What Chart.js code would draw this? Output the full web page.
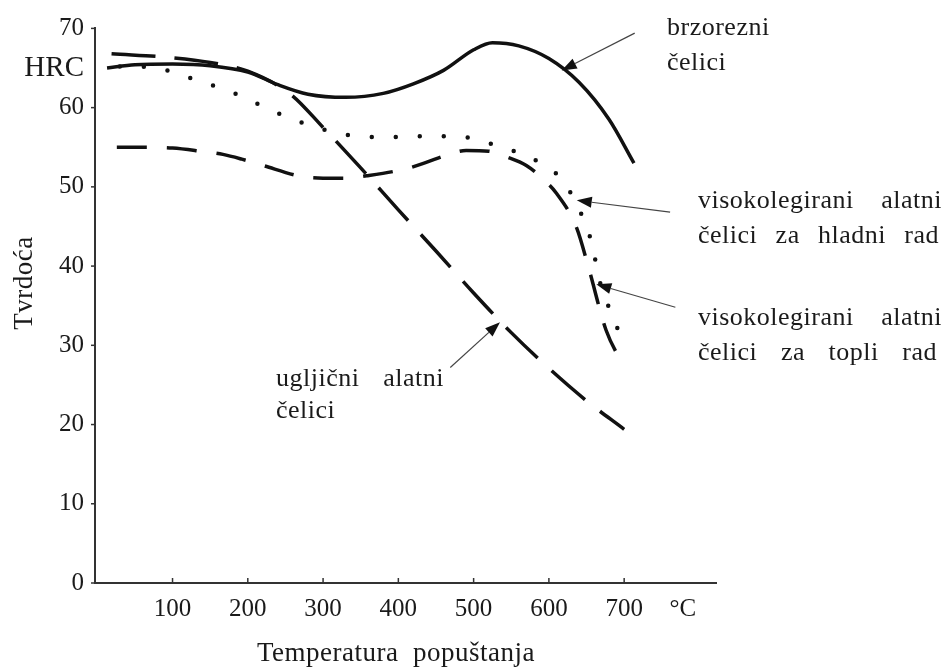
<!DOCTYPE html>
<html>
<head>
<meta charset="utf-8">
<script src="https://cdn.jsdelivr.net/npm/chart.js@4.4.0/dist/chart.umd.min.js"></script>
<style>
  body { margin: 0; background: #fff; }
  #wrap { width: 945px; height: 668px; }
</style>
</head>
<body>
<div id="wrap"><canvas id="tvrdocaChart" width="945" height="668"></canvas></div>
<script>
// Temperatura popuštanja (°C) i tvrdoća (HRC), očitano sa slike
const brzorezniT   = [13, 50, 100, 150, 200, 240, 280, 330, 380, 420, 460, 500, 525, 560, 600, 640, 680, 713];
const brzorezniHRC = [65.0, 65.4, 65.5, 65.3, 64.5, 62.9, 61.7, 61.3, 61.8, 63.0, 64.7, 67.3, 68.2, 67.8, 66.2, 63.2, 58.5, 53.0];

const ugljicniT   = [19, 100, 150, 200, 258, 300, 350, 400, 450, 500, 550, 600, 650, 700];
const ugljicniHRC = [66.8, 66.3, 65.7, 64.6, 61.6, 57.5, 52.4, 47.1, 41.9, 36.6, 31.6, 27.1, 23.0, 19.4];

const hladniT   = [30, 50, 85, 115, 147, 180, 210, 240, 272, 335, 370, 400, 435, 470, 500, 530, 563, 592, 618, 649, 659, 665, 675, 687, 701];
const hladniHRC = [65.2, 65.2, 64.9, 64.0, 63.0, 61.9, 60.6, 59.3, 58.1, 56.5, 56.3, 56.3, 56.4, 56.4, 56.1, 55.2, 54.2, 52.8, 50.8, 45.2, 42.1, 39.0, 36.0, 33.0, 30.2];

const topliT   = [26, 55, 100, 137, 167, 192, 220, 272, 300, 330, 358, 411, 437, 464, 490, 520, 543, 570, 591, 610, 637, 653, 676, 700];
const topliHRC = [55.0, 55.0, 54.9, 54.5, 54.1, 53.5, 52.7, 51.3, 51.1, 51.1, 51.4, 52.3, 53.1, 54.0, 54.6, 54.5, 53.8, 52.7, 51.1, 49.2, 44.8, 39.7, 31.9, 27.3];

const xTicks = [100, 200, 300, 400, 500, 600, 700];
const yTicks = [0, 10, 20, 30, 40, 50, 60, 70];
const jedinicaX = { vrijednost: 778, tekst: '°C' };
const jedinicaY = { vrijednost: 65, tekst: 'HRC' };

// strelice: od natpisa (rep) do krivulje (vrh), u jedinicama osi
const strelice = [
  { rep: [714, 69.4], vrh: [617, 64.7] },
  { rep: [761, 46.8], vrh: [637, 48.3] },
  { rep: [768, 34.8], vrh: [663, 37.7] },
  { rep: [469, 27.2], vrh: [535, 32.9] }
];

const natpisi = [
  { tekst: 'brzorezni', x: 667, y: 35 },
  { tekst: 'čelici', x: 667, y: 70 },
  { tekst: 'visokolegirani alatni', x: 698, y: 208, sirina: 244 },
  { tekst: 'čelici za hladni rad', x: 698, y: 243, sirina: 241 },
  { tekst: 'visokolegirani alatni', x: 698, y: 325, sirina: 244 },
  { tekst: 'čelici za topli rad', x: 698, y: 360, sirina: 239 },
  { tekst: 'ugljični alatni', x: 276, y: 386, sirina: 168 },
  { tekst: 'čelici', x: 276, y: 418 }
];

const tocke = (xs, ys) => xs.map((t, i) => ({ x: t, y: ys[i] }));

function poravnaj(ctx, tekst, x, y, sirina) {
  const rijeci = tekst.split(' ');
  if (!sirina || rijeci.length < 2) { ctx.fillText(tekst, x, y); return; }
  const ukupno = rijeci.reduce((s, r) => s + ctx.measureText(r).width, 0);
  const razmak = (sirina - ukupno) / (rijeci.length - 1);
  let px = x;
  rijeci.forEach(r => { ctx.fillText(r, px, y); px += ctx.measureText(r).width + razmak; });
}

function strelica(ctx, x1, y1, x2, y2) {
  const kut = Math.atan2(y2 - y1, x2 - x1);
  const duz = 15, sir = 5.5;
  ctx.beginPath();
  ctx.moveTo(x1, y1);
  ctx.lineTo(x2 - Math.cos(kut) * duz, y2 - Math.sin(kut) * duz);
  ctx.stroke();
  ctx.beginPath();
  ctx.moveTo(x2, y2);
  ctx.lineTo(x2 - Math.cos(kut) * duz - Math.sin(kut) * sir, y2 - Math.sin(kut) * duz + Math.cos(kut) * sir);
  ctx.lineTo(x2 - Math.cos(kut) * duz + Math.sin(kut) * sir, y2 - Math.sin(kut) * duz - Math.cos(kut) * sir);
  ctx.closePath();
  ctx.fill();
}

const crtezPlugin = {
  id: 'crtez',
  afterDraw(chart) {
    const ctx = chart.ctx;
    const sx = chart.scales.x, sy = chart.scales.y;
    const area = chart.chartArea;
    ctx.save();
    // crtice na osima
    ctx.strokeStyle = '#333';
    ctx.lineWidth = 1.5;
    xTicks.forEach(v => {
      const px = sx.getPixelForValue(v);
      ctx.beginPath(); ctx.moveTo(px, area.bottom); ctx.lineTo(px, area.bottom - 5); ctx.stroke();
    });
    yTicks.forEach(v => {
      const py = sy.getPixelForValue(v);
      ctx.beginPath(); ctx.moveTo(area.left, py); ctx.lineTo(area.left - 4, py); ctx.stroke();
    });
    // strelice
    ctx.strokeStyle = '#444';
    ctx.fillStyle = '#111';
    ctx.lineWidth = 1.2;
    strelice.forEach(s => strelica(ctx,
      sx.getPixelForValue(s.rep[0]), sy.getPixelForValue(s.rep[1]),
      sx.getPixelForValue(s.vrh[0]), sy.getPixelForValue(s.vrh[1])));
    // natpisi
    ctx.fillStyle = '#1a1a1a';
    ctx.font = '26px "Liberation Serif"';
    ctx.letterSpacing = '0.5px';
    ctx.textBaseline = 'alphabetic';
    ctx.textAlign = 'left';
    natpisi.forEach(n => poravnaj(ctx, n.tekst, n.x, n.y, n.sirina));
    // naslovi osi
    ctx.font = '27px "Liberation Serif"';
    ctx.textAlign = 'center';
    ctx.fillText('Temperatura  popuštanja', 396, 661);
    ctx.translate(32, 283);
    ctx.rotate(-Math.PI / 2);
    ctx.fillText('Tvrdoća', 0, 0);
    ctx.restore();
  }
};

Chart.defaults.font.family = '"Liberation Serif", serif';
Chart.defaults.color = '#1a1a1a';

const ctx = document.getElementById('tvrdocaChart').getContext('2d');
const tvrdocaChart = new Chart(ctx, {
  type: 'line',
  data: {
    datasets: [
      {
        label: 'brzorezni čelici',
        data: tocke(brzorezniT, brzorezniHRC),
        borderColor: '#111', borderWidth: 3.5
      },
      {
        label: 'ugljični alatni čelici',
        data: tocke(ugljicniT, ugljicniHRC),
        borderColor: '#111', borderWidth: 3.5, borderDash: [44, 19]
      },
      {
        label: 'visokolegirani alatni čelici za hladni rad',
        data: tocke(hladniT, hladniHRC),
        borderColor: '#111', borderWidth: 4.5, borderDash: [0, 24], borderCapStyle: 'round'
      },
      {
        label: 'visokolegirani alatni čelici za topli rad',
        data: tocke(topliT, topliHRC),
        borderColor: '#111', borderWidth: 3.5, borderDash: [30, 20]
      }
    ]
  },
  options: {
    responsive: false,
    animation: false,
    parsing: false,
    cubicInterpolationMode: 'monotone',
    elements: { point: { radius: 0 } },
    layout: { padding: { top: 28, right: 229, left: 0, bottom: 0 } },
    plugins: { legend: { display: false }, tooltip: { enabled: false } },
    scales: {
      x: {
        type: 'linear',
        min: -3,
        max: 822,
        grid: { display: false, drawTicks: false },
        border: { color: '#333', width: 2 },
        afterBuildTicks: s => { s.ticks = [...xTicks, jedinicaX.vrijednost].map(v => ({ value: v })); },
        afterFit: s => { s.height = 85; },
        ticks: {
          autoSkip: false,
          maxRotation: 0,
          padding: 11,
          font: { size: 25 },
          callback: v => v === jedinicaX.vrijednost ? jedinicaX.tekst : String(v)
        }
      },
      y: {
        min: 0,
        max: 70,
        grid: { display: false, drawTicks: false },
        border: { color: '#333', width: 2 },
        afterBuildTicks: s => { s.ticks = [...yTicks, jedinicaY.vrijednost].map(v => ({ value: v })); },
        afterFit: s => { s.width = 95; },
        ticks: {
          autoSkip: false,
          padding: 11,
          font: c => ({ size: c.tick && c.tick.value === jedinicaY.vrijednost ? 29 : 25 }),
          callback: v => v === jedinicaY.vrijednost ? jedinicaY.tekst : String(v)
        }
      }
    }
  },
  plugins: [crtezPlugin]
});
</script>
</body>
</html>
